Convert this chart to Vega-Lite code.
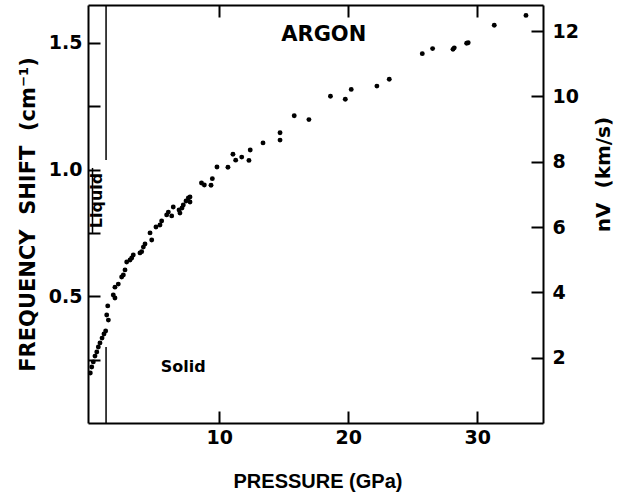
{
  "$schema": "https://vega.github.io/schema/vega-lite/v6.json",
  "width": 455,
  "height": 418,
  "autosize": "none",
  "padding": {"left": 88, "top": 5, "right": 81, "bottom": 71},
  "background": "white",
  "config": {
    "view": {"stroke": null},
    "axis": {
      "grid": false,
      "domainColor": "black",
      "domainWidth": 2,
      "tickColor": "black",
      "tickWidth": 2,
      "labelColor": "black",
      "titleColor": "black",
      "labelFont": "DejaVu Sans",
      "labelFontWeight": "bold",
      "labelFontSize": 19,
      "labelOverlap": false,
      "labelFlush": false
    }
  },
  "datasets": {
    "points": [
      {"P": 0.0, "F": 0.197}, {"P": 0.11, "F": 0.221}, {"P": 0.23, "F": 0.241}, {"P": 0.36, "F": 0.264},
      {"P": 0.5, "F": 0.28}, {"P": 0.62, "F": 0.3}, {"P": 0.75, "F": 0.316}, {"P": 0.91, "F": 0.335},
      {"P": 1.06, "F": 0.351}, {"P": 1.19, "F": 0.363}, {"P": 1.27, "F": 0.426}, {"P": 1.4, "F": 0.406},
      {"P": 1.35, "F": 0.462}, {"P": 1.78, "F": 0.505}, {"P": 1.91, "F": 0.493}, {"P": 1.91, "F": 0.536},
      {"P": 2.17, "F": 0.548}, {"P": 2.43, "F": 0.576}, {"P": 2.56, "F": 0.584}, {"P": 2.69, "F": 0.604},
      {"P": 2.82, "F": 0.635}, {"P": 3.08, "F": 0.643}, {"P": 3.21, "F": 0.651}, {"P": 3.33, "F": 0.663},
      {"P": 3.85, "F": 0.671}, {"P": 3.98, "F": 0.676}, {"P": 4.11, "F": 0.694}, {"P": 4.24, "F": 0.706},
      {"P": 4.76, "F": 0.722}, {"P": 4.63, "F": 0.75}, {"P": 5.09, "F": 0.773}, {"P": 5.4, "F": 0.781},
      {"P": 5.53, "F": 0.797}, {"P": 5.92, "F": 0.821}, {"P": 6.05, "F": 0.832}, {"P": 6.31, "F": 0.817},
      {"P": 6.43, "F": 0.852}, {"P": 6.88, "F": 0.84}, {"P": 6.95, "F": 0.828}, {"P": 7.21, "F": 0.86},
      {"P": 7.42, "F": 0.876}, {"P": 7.6, "F": 0.888}, {"P": 7.73, "F": 0.872}, {"P": 7.73, "F": 0.892},
      {"P": 7.11, "F": 0.848}, {"P": 8.62, "F": 0.947}, {"P": 8.84, "F": 0.939}, {"P": 9.36, "F": 0.938},
      {"P": 9.46, "F": 0.964}, {"P": 9.82, "F": 1.01}, {"P": 10.67, "F": 1.009}, {"P": 11.06, "F": 1.06},
      {"P": 11.27, "F": 1.037}, {"P": 11.74, "F": 1.049}, {"P": 12.3, "F": 1.036}, {"P": 12.4, "F": 1.077},
      {"P": 13.39, "F": 1.105}, {"P": 14.71, "F": 1.145}, {"P": 14.71, "F": 1.116}, {"P": 15.81, "F": 1.212},
      {"P": 16.95, "F": 1.197}, {"P": 18.62, "F": 1.289}, {"P": 19.77, "F": 1.277}, {"P": 20.23, "F": 1.316},
      {"P": 22.22, "F": 1.329}, {"P": 23.18, "F": 1.356}, {"P": 25.74, "F": 1.457}, {"P": 26.54, "F": 1.477},
      {"P": 28.12, "F": 1.474}, {"P": 28.22, "F": 1.48}, {"P": 29.18, "F": 1.498}, {"P": 29.3, "F": 1.5},
      {"P": 31.32, "F": 1.569}, {"P": 33.78, "F": 1.608}
    ],
    "rules": [
      {"P": 1.22, "nv_lo": 0, "nv_hi": 2.33},
      {"P": 1.22, "nv_lo": 8.05, "nv_hi": 12.8},
      {"P": 0.17, "nv_lo": 5.82, "nv_hi": 7.81}
    ]
  },
  "resolve": {"scale": {"y": "independent"}, "axis": {"x": "independent", "y": "independent"}},
  "layer": [
    {
      "data": {"name": "points"},
      "mark": {"type": "circle", "color": "black", "size": 24, "opacity": 1},
      "encoding": {
        "x": {
          "field": "P", "type": "quantitative",
          "scale": {"domain": [-0.18, 35.1], "nice": false, "zero": false},
          "axis": {
            "orient": "bottom", "values": [10, 20, 30], "format": "d",
            "tickSize": -12, "labelPadding": 17,
            "title": "PRESSURE (GPa)", "titleFont": "Liberation Sans", "titleFontSize": 20, "titleFontWeight": "bold",
            "titleX": 229.5, "titleY": 58, "titleAlign": "center", "titleBaseline": "middle"
          }
        },
        "y": {
          "field": "F", "type": "quantitative",
          "scale": {"domain": [0, 1.649], "nice": false, "zero": false},
          "axis": {
            "orient": "left", "values": [0.25, 0.5, 0.75, 1, 1.25, 1.5],
            "labelExpr": "datum.value == 0.5 || datum.value == 1 || datum.value == 1.5 ? format(datum.value, '.1f') : ''",
            "tickSize": -12, "labelPadding": 18,
            "title": "FREQUENCY\u00a0 SHIFT\u00a0 (cm⁻¹)", "titleFont": "DejaVu Sans", "titleFontSize": 21, "titleFontWeight": "bold",
            "titleX": -60, "titleY": 209, "titleAngle": 270, "titleAlign": "center", "titleBaseline": "middle"
          }
        }
      }
    },
    {
      "data": {"name": "rules"},
      "mark": {"type": "rule", "color": "black", "strokeWidth": 1.5},
      "encoding": {
        "x": {
          "field": "P", "type": "quantitative",
          "scale": {"domain": [-0.18, 35.1], "nice": false, "zero": false},
          "axis": {"orient": "top", "values": [10, 20, 30], "labels": false, "tickSize": -12, "title": null}
        },
        "y": {
          "field": "nv_lo", "type": "quantitative",
          "scale": {"domain": [0, 12.8], "nice": false, "zero": false},
          "axis": {
            "orient": "right", "values": [2, 4, 6, 8, 10, 12], "format": "d",
            "tickSize": -12, "labelPadding": 21,
            "title": "nV\u00a0 (km/s)", "titleFont": "DejaVu Sans", "titleFontSize": 20, "titleFontWeight": "bold",
            "titleX": 60, "titleY": 169, "titleAngle": 270, "titleAlign": "center", "titleBaseline": "middle"
          }
        },
        "y2": {"field": "nv_hi"}
      }
    },
    {
      "data": {"values": [{"P": 18.1, "F": 1.53, "label": "ARGON"}]},
      "mark": {"type": "text", "font": "DejaVu Sans", "fontWeight": "bold", "fontSize": 21, "color": "black", "align": "center", "baseline": "middle"},
      "encoding": {
        "x": {"field": "P", "type": "quantitative", "scale": {"domain": [-0.18, 35.1], "nice": false, "zero": false}, "axis": null},
        "y": {"field": "F", "type": "quantitative", "scale": {"domain": [0, 1.649], "nice": false, "zero": false}, "axis": null},
        "text": {"field": "label"}
      }
    },
    {
      "data": {"values": [{"P": 7.2, "F": 0.221, "label": "Solid"}]},
      "mark": {"type": "text", "font": "DejaVu Sans", "fontWeight": "bold", "fontSize": 16, "color": "black", "align": "center", "baseline": "middle"},
      "encoding": {
        "x": {"field": "P", "type": "quantitative", "scale": {"domain": [-0.18, 35.1], "nice": false, "zero": false}, "axis": null},
        "y": {"field": "F", "type": "quantitative", "scale": {"domain": [0, 1.649], "nice": false, "zero": false}, "axis": null},
        "text": {"field": "label"}
      }
    },
    {
      "data": {"values": [{"P": 0.5, "F": 0.878, "label": "Liquid"}]},
      "mark": {"type": "text", "font": "DejaVu Sans", "fontWeight": "bold", "fontSize": 16, "color": "black", "align": "center", "baseline": "middle", "angle": 270},
      "encoding": {
        "x": {"field": "P", "type": "quantitative", "scale": {"domain": [-0.18, 35.1], "nice": false, "zero": false}, "axis": null},
        "y": {"field": "F", "type": "quantitative", "scale": {"domain": [0, 1.649], "nice": false, "zero": false}, "axis": null},
        "text": {"field": "label"}
      }
    }
  ]
}
